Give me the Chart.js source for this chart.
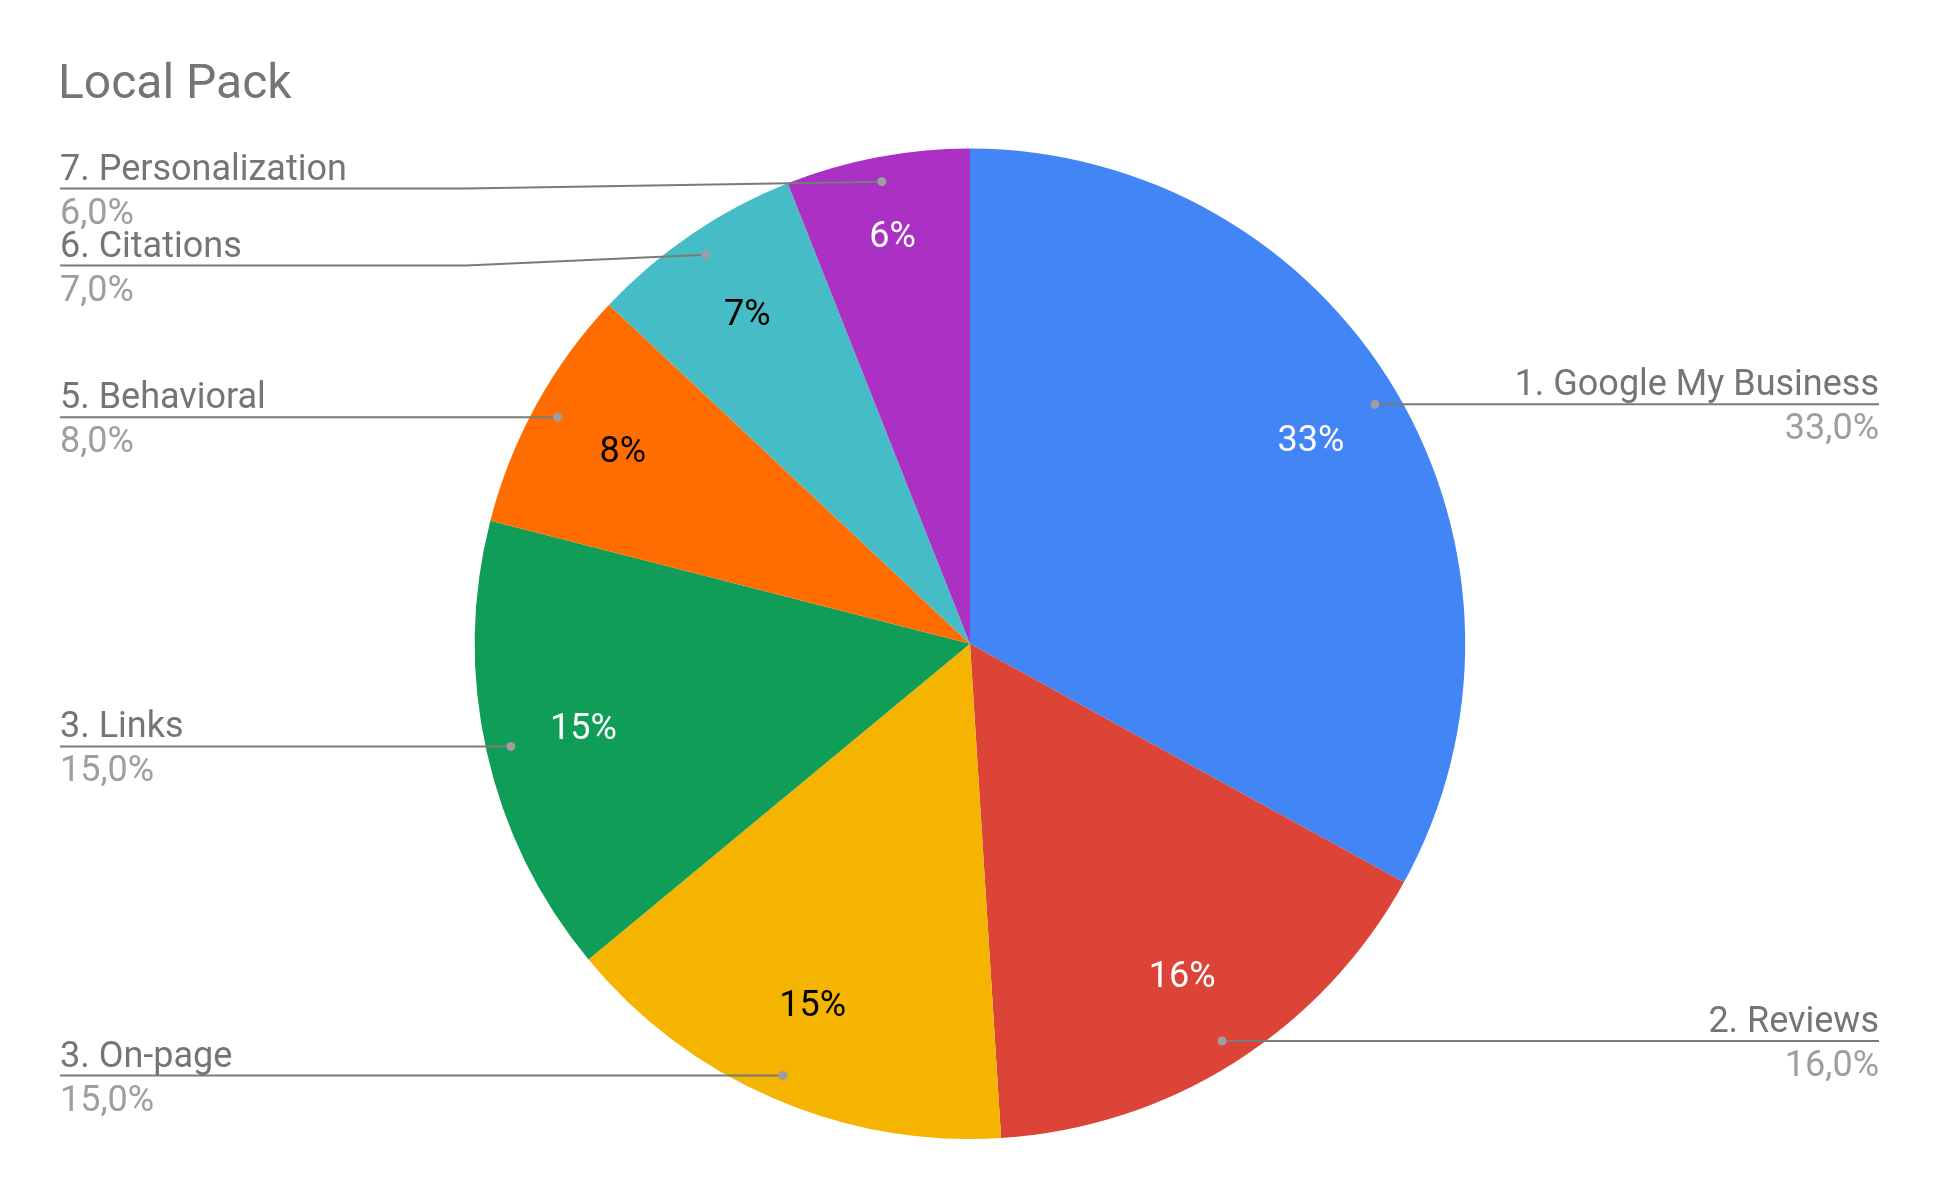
<!doctype html>
<html lang="en">

<head>
    <meta charset="utf-8">
    <title>Local Pack</title>
    <script src="https://cdn.jsdelivr.net/npm/chart.js"></script>
    <style>
        body { margin: 0; background: #fff; }
        .container { width: 1940px; height: 1200px; }
    </style>
</head>

<body>
    <div class="container">
        <canvas id="pieChart"></canvas>
    </div>

    <script>
        // Chart data
        const labels = ['1. Google My Business', '2. Reviews', '3. On-page', '3. Links', '5. Behavioral', '6. Citations', '7. Personalization'];
        const values = [33, 16, 15, 15, 8, 7, 6];
        const colors = ['#4285f4', '#db4437', '#f4b400', '#0f9d58', '#ff6d00', '#46bdc6', '#ab30c4'];
        const insideColors = ['#ffffff', '#ffffff', '#000000', '#ffffff', '#000000', '#000000', '#ffffff'];

        const total = values.reduce((sum, v) => sum + v, 0);

        // Percent labels inside the slices + leader-line labels outside
        const pieLabels = {
            id: 'pieLabels',
            afterDatasetsDraw(chart, args, opts) {
                const ctx = chart.ctx;
                const meta = chart.getDatasetMeta(0);
                const left = [];
                const right = [];

                meta.data.forEach((arc, i) => {
                    const p = arc.getProps(['x', 'y', 'startAngle', 'endAngle', 'outerRadius'], true);
                    const mid = (p.startAngle + p.endAngle) / 2;
                    const pct = values[i] / total * 100;
                    // narrow slices get their text pushed a bit outward
                    const k = pct < 6.5 ? 0.835 : 0.8;

                    // inside text
                    ctx.save();
                    ctx.font = '36px Roboto';
                    ctx.fillStyle = insideColors[i];
                    ctx.textAlign = 'center';
                    ctx.textBaseline = 'middle';
                    ctx.fillText(Math.round(pct) + '%', p.x + Math.cos(mid) * p.outerRadius * k, p.y + Math.sin(mid) * p.outerRadius * k);
                    ctx.restore();

                    const item = {
                        i: i,
                        cx: p.x,
                        dx: p.x + Math.cos(mid) * p.outerRadius * 0.95,
                        dy: p.y + Math.sin(mid) * p.outerRadius * 0.95,
                        text: labels[i],
                        value: pct.toFixed(1).replace('.', ',') + '%'
                    };
                    (Math.cos(mid) >= 0 ? right : left).push(item);
                });

                [left, right].forEach((side, s) => {
                    side.sort((a, b) => a.dy - b.dy);
                    let prev = -Infinity;
                    side.forEach(item => {
                        item.ly = Math.max(item.dy, prev + opts.spacing, chart.chartArea.top + opts.topGap);
                        prev = item.ly;

                        const isRight = s === 1;
                        const endX = isRight ? opts.rightX : opts.leftX;
                        const elbowX = isRight ? 2 * item.cx - opts.elbowX : opts.elbowX;

                        ctx.save();
                        ctx.strokeStyle = '#7a7a7a';
                        ctx.lineWidth = 2;
                        ctx.beginPath();
                        ctx.moveTo(item.dx, item.dy);
                        if (Math.abs(item.ly - item.dy) > 0.5) {
                            ctx.lineTo(elbowX, item.ly);
                        }
                        ctx.lineTo(endX, item.ly);
                        ctx.stroke();

                        ctx.fillStyle = '#9e9e9e';
                        ctx.beginPath();
                        ctx.arc(item.dx, item.dy, 4.5, 0, Math.PI * 2);
                        ctx.fill();

                        ctx.font = '36px Roboto';
                        ctx.textAlign = isRight ? 'right' : 'left';
                        ctx.textBaseline = 'alphabetic';
                        ctx.fillStyle = '#757575';
                        ctx.fillText(item.text, endX, item.ly - 9);
                        ctx.fillStyle = '#9e9e9e';
                        ctx.fillText(item.value, endX, item.ly + 35);
                        ctx.restore();
                    });
                });
            }
        };

        const config = {
            type: 'pie',
            data: {
                labels: labels,
                datasets: [
                    {
                        data: values,
                        backgroundColor: colors,
                        borderWidth: 0
                    }
                ]
            },
            options: {
                responsive: true,
                maintainAspectRatio: false,
                animation: false,
                devicePixelRatio: 1,
                layout: {
                    padding: { top: 10, bottom: 61, left: 58, right: 58 }
                },
                plugins: {
                    legend: { display: false },
                    tooltip: { enabled: false },
                    title: {
                        display: true,
                        text: 'Local Pack',
                        align: 'start',
                        color: '#757575',
                        font: { family: 'Roboto', size: 48, weight: 'normal' },
                        padding: { top: 47, bottom: 34 }
                    },
                    pieLabels: {
                        leftX: 60,
                        rightX: 1879,
                        elbowX: 466,
                        spacing: 77,
                        topGap: 40
                    }
                }
            },
            plugins: [pieLabels]
        };

        new Chart(document.getElementById('pieChart'), config);
    </script>
</body>

</html>
